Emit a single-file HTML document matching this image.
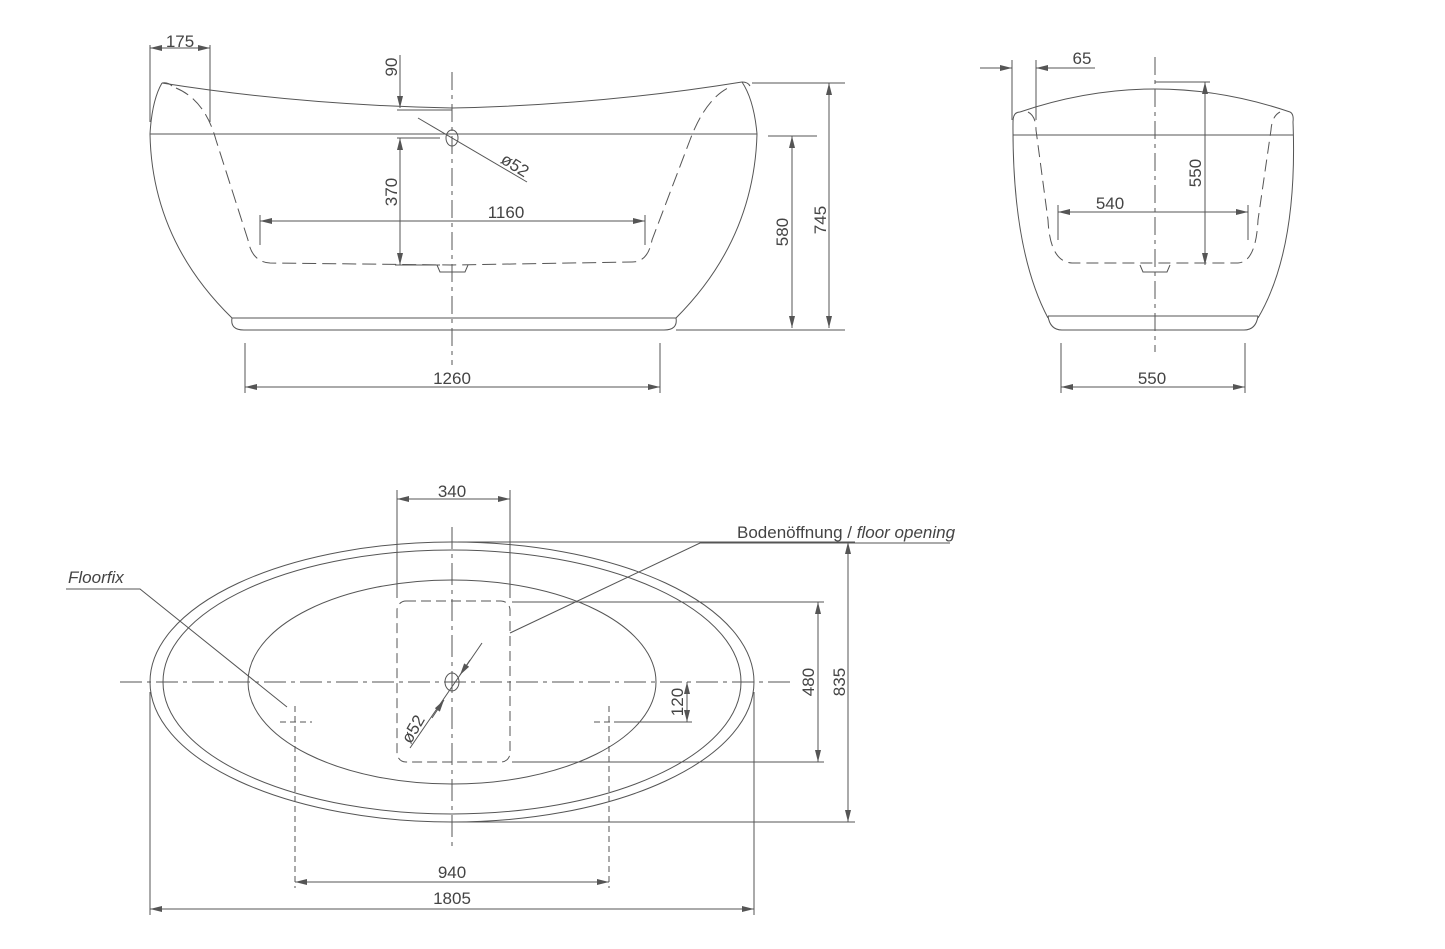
<!DOCTYPE html>
<html><head><meta charset="utf-8"><style>
html,body{margin:0;padding:0;background:#fff}
svg{display:block}
text{font-family:"Liberation Sans",sans-serif;font-size:17px;fill:#444}
</style></head><body>
<svg width="1445" height="949" viewBox="0 0 1445 949" xmlns="http://www.w3.org/2000/svg">
<defs>
<marker id="a" viewBox="0 0 12 6" refX="12" refY="3" markerWidth="12" markerHeight="6" orient="auto-start-reverse" markerUnits="userSpaceOnUse"><path d="M0,0L12,3L0,6z" fill="#555"/></marker>
</defs>
<g fill="none" stroke="#555" stroke-width="1">
<path d="M162,83 Q300,105 452,108 Q600,105 742,82"/>
<path d="M162,83 Q168,82 172,86"/><path d="M742,82 Q748,82 750,86"/>
<path d="M162,83 Q152,100 150,134 Q152,240 232,318"/>
<path d="M742,82 Q754,100 757,134 Q754,240 676,318"/>
<line x1="150" y1="134" x2="757" y2="134"/>
<path d="M232,318 Q230,330 244,330 L664,330 Q678,330 676,318"/>
<line x1="232" y1="318" x2="676" y2="318"/>
<path d="M176,88 Q205,100 216,140 L248,240 Q252,262 270,263 L452,265 L632,262 Q648,262 652,240 L690,140 Q705,100 728,88" stroke-dasharray="14,6"/>
<path d="M437,265 L440,272 L465,272 L468,265"/>
<line x1="452" y1="72" x2="452" y2="365" stroke-dasharray="18,5,4,5"/>
<ellipse cx="452" cy="138" rx="6" ry="8"/>
<line x1="418" y1="118" x2="527" y2="182"/>
<line x1="400" y1="55" x2="400" y2="108" marker-end="url(#a)"/>
<line x1="397" y1="110" x2="452" y2="110"/>
<line x1="397" y1="138" x2="440" y2="138"/>
<line x1="400" y1="138" x2="400" y2="265" marker-start="url(#a)" marker-end="url(#a)"/>
<line x1="395" y1="265" x2="440" y2="265"/>
<line x1="260" y1="221" x2="645" y2="221" marker-start="url(#a)" marker-end="url(#a)"/>
<line x1="260" y1="215" x2="260" y2="245"/><line x1="645" y1="215" x2="645" y2="245"/>
<line x1="150" y1="45" x2="150" y2="122"/><line x1="210" y1="45" x2="210" y2="122"/>
<line x1="150" y1="48" x2="210" y2="48" marker-start="url(#a)" marker-end="url(#a)"/>
<line x1="245" y1="343" x2="245" y2="393"/><line x1="660" y1="343" x2="660" y2="393"/>
<line x1="245" y1="387" x2="660" y2="387" marker-start="url(#a)" marker-end="url(#a)"/>
<line x1="768" y1="136" x2="817" y2="136"/>
<line x1="792" y1="136" x2="792" y2="328" marker-start="url(#a)" marker-end="url(#a)"/>
<line x1="752" y1="83" x2="845" y2="83"/>
<line x1="676" y1="330" x2="845" y2="330"/>
<line x1="829" y1="83" x2="829" y2="328" marker-start="url(#a)" marker-end="url(#a)"/>
<path d="M1020,112 Q1155,66 1290,112"/>
<path d="M1013,122 Q1013,112 1020,112"/><path d="M1290,112 Q1294,114 1293,122"/>
<path d="M1013,122 Q1012,250 1048,318"/>
<path d="M1293,122 Q1298,250 1258,318"/>
<line x1="1013" y1="135" x2="1293" y2="135"/>
<path d="M1048,316 Q1050,330 1062,330 L1244,330 Q1256,330 1258,316"/>
<line x1="1048" y1="316" x2="1258" y2="316"/>
<path d="M1028,112 Q1036,116 1036,130 L1048,220 Q1050,262 1072,263 L1238,263 Q1256,262 1258,220 L1271,130 Q1272,116 1280,112" stroke-dasharray="12,6"/>
<path d="M1140,265 L1143,272 L1167,272 L1170,265"/>
<line x1="1155" y1="57" x2="1155" y2="352" stroke-dasharray="18,5,4,5"/>
<line x1="1155" y1="82" x2="1210" y2="82"/>
<line x1="1205" y1="82" x2="1205" y2="265" marker-start="url(#a)" marker-end="url(#a)"/>
<line x1="1058" y1="212" x2="1248" y2="212" marker-start="url(#a)" marker-end="url(#a)"/>
<line x1="1058" y1="205" x2="1058" y2="240"/><line x1="1248" y1="205" x2="1248" y2="240"/>
<line x1="1012" y1="60" x2="1012" y2="120"/><line x1="1036" y1="60" x2="1036" y2="120"/>
<line x1="980" y1="68" x2="1012" y2="68" marker-end="url(#a)"/>
<line x1="1095" y1="68" x2="1036" y2="68" marker-end="url(#a)"/>
<line x1="1061" y1="343" x2="1061" y2="393"/><line x1="1245" y1="343" x2="1245" y2="393"/>
<line x1="1061" y1="387" x2="1245" y2="387" marker-start="url(#a)" marker-end="url(#a)"/>
<ellipse cx="452" cy="682" rx="302" ry="140"/>
<ellipse cx="452" cy="682" rx="289" ry="132"/>
<ellipse cx="452" cy="682" rx="204" ry="102"/>
<rect x="397" y="601" width="113" height="161" rx="9" stroke-dasharray="10,5"/>
<line x1="120" y1="682" x2="790" y2="682" stroke-dasharray="22,5,4,5"/>
<line x1="452" y1="527" x2="452" y2="848" stroke-dasharray="22,5,4,5"/>
<ellipse cx="452" cy="682" rx="7" ry="9"/>
<line x1="482" y1="643" x2="410" y2="748"/>
<line x1="470" y1="660" x2="460" y2="675" marker-end="url(#a)"/>
<line x1="432" y1="718" x2="444" y2="700" marker-end="url(#a)"/>
<line x1="397" y1="490" x2="397" y2="598"/><line x1="510" y1="490" x2="510" y2="598"/>
<line x1="397" y1="499" x2="510" y2="499" marker-start="url(#a)" marker-end="url(#a)"/>
<line x1="512" y1="602" x2="824" y2="602"/><line x1="512" y1="762" x2="824" y2="762"/>
<line x1="818" y1="602" x2="818" y2="762" marker-start="url(#a)" marker-end="url(#a)"/>
<line x1="458" y1="542" x2="855" y2="542"/><line x1="452" y1="822" x2="855" y2="822"/>
<line x1="848" y1="542" x2="848" y2="822" marker-start="url(#a)" marker-end="url(#a)"/>
<line x1="620" y1="722" x2="692" y2="722"/>
<line x1="687" y1="682" x2="687" y2="722" marker-start="url(#a)" marker-end="url(#a)"/>
<g stroke-dasharray="6,4">
<line x1="280" y1="722" x2="312" y2="722"/><line x1="295" y1="706" x2="295" y2="888"/>
<line x1="594" y1="722" x2="626" y2="722"/><line x1="609" y1="706" x2="609" y2="888"/>
</g>
<line x1="295" y1="882" x2="609" y2="882" marker-start="url(#a)" marker-end="url(#a)"/>
<line x1="150" y1="692" x2="150" y2="915"/><line x1="754" y1="692" x2="754" y2="915"/>
<line x1="150" y1="909" x2="754" y2="909" marker-start="url(#a)" marker-end="url(#a)"/>
<path d="M66,589 L140,589 L287,707"/>
<path d="M950,543 L700,543 L510,633"/>
</g>
<g text-anchor="middle">
<text x="180" y="47">175</text>
<text x="506" y="218">1160</text>
<text x="452" y="384">1260</text>
<text transform="translate(397,67) rotate(-90)">90</text>
<text transform="translate(397,192) rotate(-90)">370</text>
<text transform="translate(788,232) rotate(-90)">580</text>
<text transform="translate(826,220) rotate(-90)">745</text>
<text transform="translate(512,170) rotate(32)">ø52</text>
<text x="1082" y="64">65</text>
<text x="1110" y="209">540</text>
<text x="1152" y="384">550</text>
<text transform="translate(1201,173) rotate(-90)">550</text>
<text x="452" y="497">340</text>
<text transform="translate(814,682) rotate(-90)">480</text>
<text transform="translate(845,682) rotate(-90)">835</text>
<text transform="translate(683,702) rotate(-90)">120</text>
<text transform="translate(418,732) rotate(-60)">ø52</text>
<text x="452" y="878">940</text>
<text x="452" y="904">1805</text>
</g>
<text x="68" y="583" font-style="italic">Floorfix</text>
<text x="737" y="538">Bodenöffnung / <tspan font-style="italic">floor opening</tspan></text>
</svg>
</body></html>
